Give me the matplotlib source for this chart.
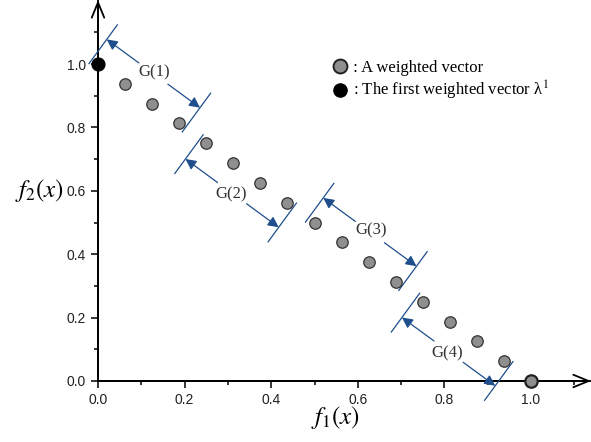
import matplotlib.pyplot as plt
from matplotlib.lines import Line2D
import numpy as np

plt.rcParams['mathtext.fontset'] = 'stix'

# weighted vectors on the simplex f1 + f2 = 1
f1 = [0.0, 0.0625, 0.125, 0.1875, 0.25, 0.3125, 0.375, 0.4375, 0.5,
      0.5625, 0.625, 0.6875, 0.75, 0.8125, 0.875, 0.9375, 1.0]
f2 = [1.0, 0.9375, 0.875, 0.8125, 0.75, 0.6875, 0.625, 0.5625, 0.5,
      0.4375, 0.375, 0.3125, 0.25, 0.1875, 0.125, 0.0625, 0.0]

group_names = ['G(1)', 'G(2)', 'G(3)', 'G(4)']
group_first = [0, 4, 8, 12]
group_last = [3, 7, 11, 15]
group_side = [1, -1, 1, -1]

x_ticks = [0.0, 0.2, 0.4, 0.6, 0.8, 1.0]
y_ticks = [0.0, 0.2, 0.4, 0.6, 0.8, 1.0]

blue = '#1f4e8c'
gray = '#8f8f8f'

fig = plt.figure(figsize=(5.91, 4.42), dpi=100)
ax = fig.add_axes([98 / 591, 61 / 442, 493 / 591, 381 / 442])
ax.set_xlim(0, 493 / 433)
ax.set_ylim(0, 381 / 317)

for side in ['top', 'right']:
    ax.spines[side].set_visible(False)
for side in ['left', 'bottom']:
    ax.spines[side].set_linewidth(1.3)

ax.set_xticks(x_ticks)
ax.set_yticks(y_ticks)
ax.set_xticks(np.arange(0.1, 1.15, 0.2), minor=True)
ax.set_yticks(np.arange(0.1, 1.15, 0.2), minor=True)
ax.tick_params(which='major', direction='out', length=5, width=1.1,
               labelsize=10, labelcolor='#222222')
ax.tick_params(which='minor', direction='out', length=3, width=1.1)
for lab in ax.get_xticklabels() + ax.get_yticklabels():
    lab.set_family('Liberation Sans')

# axis arrows
arrow_kw = dict(arrowstyle='->,head_length=1.1,head_width=0.45',
                lw=1.3, color='black', shrinkA=0, shrinkB=0)
ax.annotate('', xy=(0, 1), xytext=(0, 0), xycoords='axes fraction',
            arrowprops=arrow_kw, annotation_clip=False)
ax.annotate('', xy=(1, 0), xytext=(0, 0), xycoords='axes fraction',
            arrowprops=arrow_kw, annotation_clip=False)

ax.scatter(f1[1:-1], f2[1:-1], s=68, c=gray, edgecolors='#333333',
           linewidths=0.9, zorder=5, clip_on=False)
ax.scatter(f1[-1:], f2[-1:], s=80, c=gray, edgecolors='#222222',
           linewidths=1.6, zorder=5, clip_on=False)
ax.scatter(f1[:1], f2[:1], s=88, c='black', edgecolors='black',
           linewidths=0.8, zorder=5, clip_on=False)

# group brackets along the diagonal, worked out in pixel space
fig.canvas.draw()


def px(x, y):
    return ax.transData.transform((x, y))


def to_data(p):
    return ax.transData.inverted().transform(p)


p0 = px(f1[0], f2[0])
p1 = px(f1[-1], f2[-1])
u = (p1 - p0) / np.hypot(*(p1 - p0))
n = np.array([-u[1], u[0]])

pad = 7.5
bracket_off = 19
bracket_half = 24
arrow_off = 25
text_off = 27
gap = 18

for name, i0, i1, side in zip(group_names, group_first, group_last, group_side):
    a = px(f1[i0], f2[i0]) - pad * u
    b = px(f1[i1], f2[i1]) + pad * u
    for end in (a, b):
        c = end + side * bracket_off * n
        seg = np.array([to_data(c - bracket_half * n), to_data(c + bracket_half * n)])
        ax.plot(seg[:, 0], seg[:, 1], color=blue, lw=0.9, clip_on=False, zorder=4)
    mid = (a + b) / 2
    tx, ty = to_data(mid + side * text_off * n)
    ax.text(tx, ty, name, family='Liberation Serif', fontsize=12,
            color='#333333', ha='center', va='center')
    arrow_mid = mid + side * arrow_off * n
    for end, sgn in ((a, -1), (b, 1)):
        tail = arrow_mid + sgn * gap * u
        tip = end + side * arrow_off * n
        ax.annotate('', xy=to_data(tip), xytext=to_data(tail),
                    arrowprops=dict(arrowstyle='-|>', color=blue, lw=0.9,
                                    mutation_scale=16, shrinkA=0, shrinkB=0),
                    annotation_clip=False, zorder=4)

handles = [
    Line2D([], [], ls='none', marker='o', ms=10, mfc=gray, mec='#222222', mew=1.4),
    Line2D([], [], ls='none', marker='o', ms=9.5, mfc='black', mec='black'),
]
labels = [' : A weighted vector', ' : The first weighted vector λ${}^{1}$']
ax.legend(handles, labels, loc='upper left', bbox_to_anchor=(0.458, 0.865),
          frameon=False, handlelength=0.9, handletextpad=0.1, borderpad=0,
          labelspacing=0.2, prop={'family': 'Liberation Serif', 'size': 12})

ax.set_xlabel(r'$f_1(x)$', fontsize=18, va='center')
ax.xaxis.set_label_coords(0.481, -0.097)
ax.set_ylabel(r'$f_2(x)$', fontsize=18, rotation=0, va='center', ha='center')
ax.yaxis.set_label_coords(-0.118, 0.5)

fig.savefig('out.png', dpi=100)
